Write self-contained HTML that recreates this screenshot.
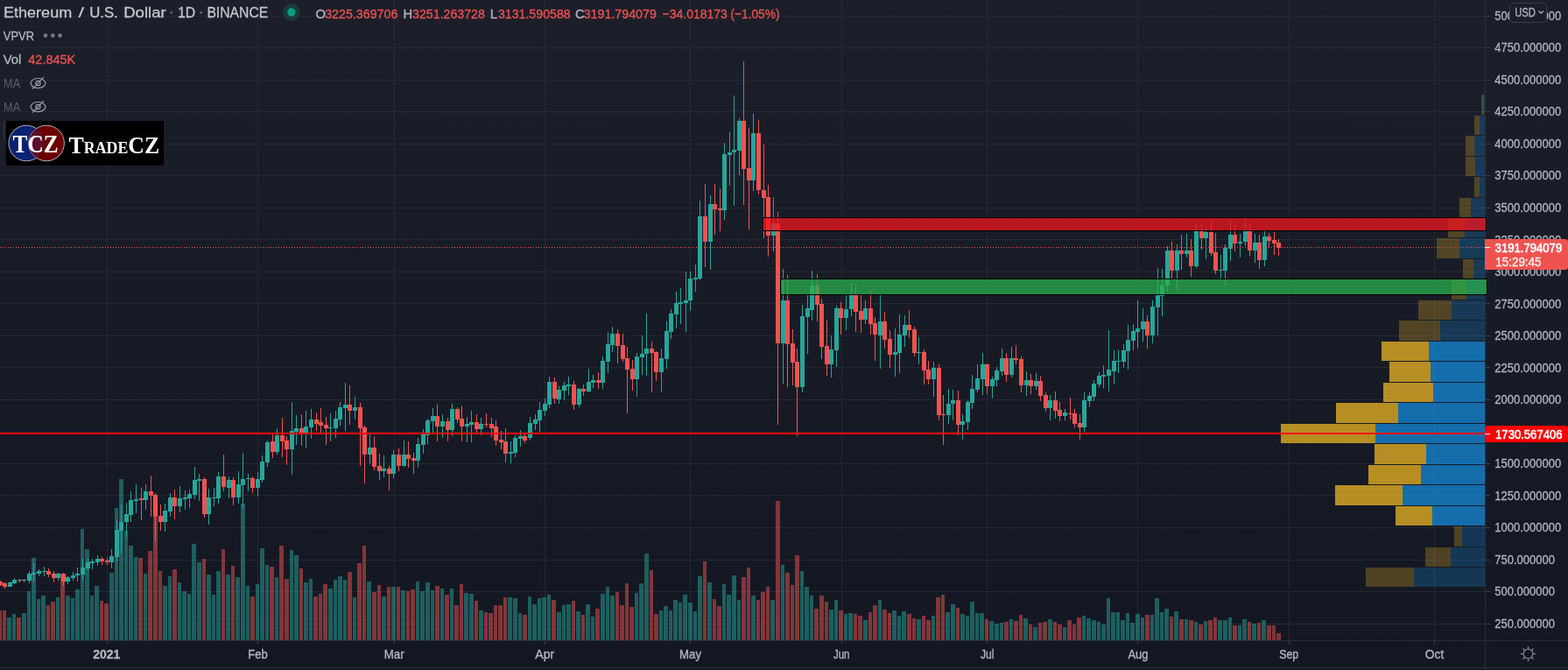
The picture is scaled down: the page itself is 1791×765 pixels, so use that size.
<!DOCTYPE html><html><head><meta charset="utf-8"><title>ETHUSD</title><style>html,body{margin:0;padding:0;background:#131722;}body{width:1791px;height:765px;overflow:hidden;position:relative;}svg{position:absolute;left:0;top:0;display:block;}svg{font-family:"Liberation Sans",Arial,sans-serif;}</style></head><body><svg width="1791" height="765" viewBox="0 0 1791 765"><defs><linearGradient id="bg" x1="0" y1="0" x2="0" y2="1"><stop offset="0" stop-color="#1c1f2a"/><stop offset="1" stop-color="#131722"/></linearGradient></defs><rect x="0" y="0" width="1791" height="765" fill="url(#bg)"/><g shape-rendering="crispEdges"><rect x="0" y="18" width="1696" height="1" fill="#262734"/><rect x="0" y="54" width="1696" height="1" fill="#262734"/><rect x="0" y="91" width="1696" height="1" fill="#262734"/><rect x="0" y="127" width="1696" height="1" fill="#262734"/><rect x="0" y="164" width="1696" height="1" fill="#262734"/><rect x="0" y="200" width="1696" height="1" fill="#262734"/><rect x="0" y="237" width="1696" height="1" fill="#262734"/><rect x="0" y="273" width="1696" height="1" fill="#262734"/><rect x="0" y="310" width="1696" height="1" fill="#262734"/><rect x="0" y="346" width="1696" height="1" fill="#262734"/><rect x="0" y="383" width="1696" height="1" fill="#262734"/><rect x="0" y="419" width="1696" height="1" fill="#262734"/><rect x="0" y="456" width="1696" height="1" fill="#262734"/><rect x="0" y="493" width="1696" height="1" fill="#262734"/><rect x="0" y="529" width="1696" height="1" fill="#262734"/><rect x="0" y="565" width="1696" height="1" fill="#262734"/><rect x="0" y="602" width="1696" height="1" fill="#262734"/><rect x="0" y="639" width="1696" height="1" fill="#262734"/><rect x="0" y="675" width="1696" height="1" fill="#262734"/><rect x="0" y="712" width="1696" height="1" fill="#262734"/><rect x="122" y="0" width="1" height="731" fill="#262734"/><rect x="294" y="0" width="1" height="731" fill="#262734"/><rect x="450" y="0" width="1" height="731" fill="#262734"/><rect x="622" y="0" width="1" height="731" fill="#262734"/><rect x="788" y="0" width="1" height="731" fill="#262734"/><rect x="961" y="0" width="1" height="731" fill="#262734"/><rect x="1127" y="0" width="1" height="731" fill="#262734"/><rect x="1299" y="0" width="1" height="731" fill="#262734"/><rect x="1472" y="0" width="1" height="731" fill="#262734"/><rect x="1638" y="0" width="1" height="731" fill="#262734"/></g><g shape-rendering="crispEdges"><rect x="0" y="697" width="2" height="34" fill="rgba(239,83,80,0.5)"/><rect x="3" y="697" width="4" height="34" fill="rgba(239,83,80,0.5)"/><rect x="8" y="705" width="5" height="26" fill="rgba(38,166,154,0.5)"/><rect x="14" y="701" width="4" height="30" fill="rgba(38,166,154,0.5)"/><rect x="19" y="705" width="5" height="26" fill="rgba(239,83,80,0.5)"/><rect x="25" y="700" width="5" height="31" fill="rgba(38,166,154,0.5)"/><rect x="31" y="675" width="4" height="56" fill="rgba(38,166,154,0.5)"/><rect x="36" y="637" width="5" height="94" fill="rgba(38,166,154,0.5)"/><rect x="42" y="684" width="4" height="47" fill="rgba(38,166,154,0.5)"/><rect x="47" y="680" width="5" height="51" fill="rgba(38,166,154,0.5)"/><rect x="53" y="691" width="4" height="40" fill="rgba(239,83,80,0.5)"/><rect x="58" y="687" width="5" height="44" fill="rgba(239,83,80,0.5)"/><rect x="64" y="682" width="4" height="49" fill="rgba(38,166,154,0.5)"/><rect x="69" y="655" width="5" height="76" fill="rgba(239,83,80,0.5)"/><rect x="75" y="680" width="5" height="51" fill="rgba(38,166,154,0.5)"/><rect x="81" y="683" width="4" height="48" fill="rgba(38,166,154,0.5)"/><rect x="86" y="673" width="5" height="58" fill="rgba(38,166,154,0.5)"/><rect x="92" y="604" width="4" height="127" fill="rgba(38,166,154,0.5)"/><rect x="97" y="627" width="5" height="104" fill="rgba(38,166,154,0.5)"/><rect x="103" y="680" width="4" height="51" fill="rgba(38,166,154,0.5)"/><rect x="108" y="669" width="5" height="62" fill="rgba(38,166,154,0.5)"/><rect x="114" y="686" width="4" height="45" fill="rgba(239,83,80,0.5)"/><rect x="119" y="689" width="5" height="42" fill="rgba(239,83,80,0.5)"/><rect x="125" y="654" width="5" height="77" fill="rgba(38,166,154,0.5)"/><rect x="131" y="580" width="4" height="151" fill="rgba(38,166,154,0.5)"/><rect x="136" y="547" width="5" height="184" fill="rgba(38,166,154,0.5)"/><rect x="142" y="606" width="4" height="125" fill="rgba(38,166,154,0.5)"/><rect x="147" y="623" width="5" height="108" fill="rgba(38,166,154,0.5)"/><rect x="153" y="636" width="4" height="95" fill="rgba(38,166,154,0.5)"/><rect x="158" y="637" width="5" height="94" fill="rgba(239,83,80,0.5)"/><rect x="164" y="655" width="4" height="76" fill="rgba(38,166,154,0.5)"/><rect x="169" y="629" width="5" height="102" fill="rgba(239,83,80,0.5)"/><rect x="175" y="590" width="5" height="141" fill="rgba(239,83,80,0.5)"/><rect x="181" y="652" width="4" height="79" fill="rgba(239,83,80,0.5)"/><rect x="186" y="669" width="5" height="62" fill="rgba(38,166,154,0.5)"/><rect x="192" y="658" width="4" height="73" fill="rgba(38,166,154,0.5)"/><rect x="197" y="650" width="5" height="81" fill="rgba(239,83,80,0.5)"/><rect x="203" y="665" width="4" height="66" fill="rgba(38,166,154,0.5)"/><rect x="208" y="675" width="5" height="56" fill="rgba(38,166,154,0.5)"/><rect x="214" y="678" width="4" height="53" fill="rgba(38,166,154,0.5)"/><rect x="219" y="621" width="5" height="110" fill="rgba(38,166,154,0.5)"/><rect x="225" y="642" width="5" height="89" fill="rgba(38,166,154,0.5)"/><rect x="231" y="638" width="4" height="93" fill="rgba(239,83,80,0.5)"/><rect x="236" y="656" width="5" height="75" fill="rgba(38,166,154,0.5)"/><rect x="242" y="679" width="4" height="52" fill="rgba(38,166,154,0.5)"/><rect x="247" y="652" width="5" height="79" fill="rgba(38,166,154,0.5)"/><rect x="253" y="627" width="4" height="104" fill="rgba(239,83,80,0.5)"/><rect x="258" y="656" width="5" height="75" fill="rgba(38,166,154,0.5)"/><rect x="264" y="646" width="4" height="85" fill="rgba(239,83,80,0.5)"/><rect x="269" y="659" width="5" height="72" fill="rgba(38,166,154,0.5)"/><rect x="275" y="575" width="5" height="156" fill="rgba(38,166,154,0.5)"/><rect x="281" y="669" width="4" height="62" fill="rgba(38,166,154,0.5)"/><rect x="286" y="681" width="5" height="50" fill="rgba(239,83,80,0.5)"/><rect x="292" y="667" width="4" height="64" fill="rgba(38,166,154,0.5)"/><rect x="297" y="626" width="5" height="105" fill="rgba(38,166,154,0.5)"/><rect x="303" y="645" width="4" height="86" fill="rgba(38,166,154,0.5)"/><rect x="308" y="647" width="5" height="84" fill="rgba(239,83,80,0.5)"/><rect x="314" y="659" width="4" height="72" fill="rgba(38,166,154,0.5)"/><rect x="319" y="623" width="5" height="108" fill="rgba(239,83,80,0.5)"/><rect x="325" y="661" width="5" height="70" fill="rgba(239,83,80,0.5)"/><rect x="331" y="628" width="4" height="103" fill="rgba(38,166,154,0.5)"/><rect x="336" y="634" width="5" height="97" fill="rgba(38,166,154,0.5)"/><rect x="342" y="649" width="4" height="82" fill="rgba(239,83,80,0.5)"/><rect x="347" y="665" width="5" height="66" fill="rgba(38,166,154,0.5)"/><rect x="353" y="661" width="4" height="70" fill="rgba(38,166,154,0.5)"/><rect x="358" y="681" width="5" height="50" fill="rgba(239,83,80,0.5)"/><rect x="364" y="678" width="4" height="53" fill="rgba(239,83,80,0.5)"/><rect x="369" y="667" width="5" height="64" fill="rgba(239,83,80,0.5)"/><rect x="375" y="672" width="5" height="59" fill="rgba(38,166,154,0.5)"/><rect x="381" y="662" width="4" height="69" fill="rgba(38,166,154,0.5)"/><rect x="386" y="658" width="5" height="73" fill="rgba(38,166,154,0.5)"/><rect x="392" y="662" width="4" height="69" fill="rgba(38,166,154,0.5)"/><rect x="397" y="653" width="5" height="78" fill="rgba(239,83,80,0.5)"/><rect x="403" y="682" width="4" height="49" fill="rgba(38,166,154,0.5)"/><rect x="408" y="643" width="5" height="88" fill="rgba(239,83,80,0.5)"/><rect x="414" y="623" width="4" height="108" fill="rgba(239,83,80,0.5)"/><rect x="419" y="664" width="5" height="67" fill="rgba(38,166,154,0.5)"/><rect x="425" y="676" width="5" height="55" fill="rgba(239,83,80,0.5)"/><rect x="431" y="668" width="4" height="63" fill="rgba(239,83,80,0.5)"/><rect x="436" y="681" width="5" height="50" fill="rgba(38,166,154,0.5)"/><rect x="442" y="670" width="4" height="61" fill="rgba(239,83,80,0.5)"/><rect x="447" y="670" width="5" height="61" fill="rgba(38,166,154,0.5)"/><rect x="453" y="670" width="4" height="61" fill="rgba(239,83,80,0.5)"/><rect x="458" y="674" width="5" height="57" fill="rgba(38,166,154,0.5)"/><rect x="464" y="675" width="4" height="56" fill="rgba(239,83,80,0.5)"/><rect x="469" y="673" width="5" height="58" fill="rgba(239,83,80,0.5)"/><rect x="475" y="664" width="4" height="67" fill="rgba(38,166,154,0.5)"/><rect x="480" y="675" width="5" height="56" fill="rgba(38,166,154,0.5)"/><rect x="486" y="665" width="5" height="66" fill="rgba(38,166,154,0.5)"/><rect x="492" y="674" width="4" height="57" fill="rgba(38,166,154,0.5)"/><rect x="497" y="669" width="5" height="62" fill="rgba(239,83,80,0.5)"/><rect x="503" y="672" width="4" height="59" fill="rgba(38,166,154,0.5)"/><rect x="508" y="679" width="5" height="52" fill="rgba(239,83,80,0.5)"/><rect x="514" y="672" width="4" height="59" fill="rgba(38,166,154,0.5)"/><rect x="519" y="691" width="5" height="40" fill="rgba(239,83,80,0.5)"/><rect x="525" y="667" width="4" height="64" fill="rgba(239,83,80,0.5)"/><rect x="530" y="677" width="5" height="54" fill="rgba(38,166,154,0.5)"/><rect x="536" y="678" width="5" height="53" fill="rgba(38,166,154,0.5)"/><rect x="542" y="686" width="4" height="45" fill="rgba(239,83,80,0.5)"/><rect x="547" y="697" width="5" height="34" fill="rgba(38,166,154,0.5)"/><rect x="553" y="699" width="4" height="32" fill="rgba(239,83,80,0.5)"/><rect x="558" y="700" width="5" height="31" fill="rgba(239,83,80,0.5)"/><rect x="564" y="691" width="4" height="40" fill="rgba(239,83,80,0.5)"/><rect x="569" y="691" width="5" height="40" fill="rgba(239,83,80,0.5)"/><rect x="575" y="682" width="4" height="49" fill="rgba(239,83,80,0.5)"/><rect x="580" y="682" width="5" height="49" fill="rgba(38,166,154,0.5)"/><rect x="586" y="683" width="5" height="48" fill="rgba(38,166,154,0.5)"/><rect x="592" y="700" width="4" height="31" fill="rgba(38,166,154,0.5)"/><rect x="597" y="702" width="5" height="29" fill="rgba(239,83,80,0.5)"/><rect x="603" y="681" width="4" height="50" fill="rgba(38,166,154,0.5)"/><rect x="608" y="690" width="5" height="41" fill="rgba(38,166,154,0.5)"/><rect x="614" y="683" width="4" height="48" fill="rgba(38,166,154,0.5)"/><rect x="619" y="682" width="5" height="49" fill="rgba(38,166,154,0.5)"/><rect x="625" y="679" width="4" height="52" fill="rgba(38,166,154,0.5)"/><rect x="630" y="685" width="5" height="46" fill="rgba(239,83,80,0.5)"/><rect x="636" y="699" width="5" height="32" fill="rgba(38,166,154,0.5)"/><rect x="642" y="691" width="4" height="40" fill="rgba(38,166,154,0.5)"/><rect x="647" y="690" width="5" height="41" fill="rgba(38,166,154,0.5)"/><rect x="653" y="686" width="4" height="45" fill="rgba(239,83,80,0.5)"/><rect x="658" y="698" width="5" height="33" fill="rgba(38,166,154,0.5)"/><rect x="664" y="702" width="4" height="29" fill="rgba(239,83,80,0.5)"/><rect x="669" y="690" width="5" height="41" fill="rgba(38,166,154,0.5)"/><rect x="675" y="704" width="4" height="27" fill="rgba(38,166,154,0.5)"/><rect x="680" y="695" width="5" height="36" fill="rgba(239,83,80,0.5)"/><rect x="686" y="678" width="5" height="53" fill="rgba(38,166,154,0.5)"/><rect x="692" y="670" width="4" height="61" fill="rgba(38,166,154,0.5)"/><rect x="697" y="680" width="5" height="51" fill="rgba(38,166,154,0.5)"/><rect x="703" y="676" width="4" height="55" fill="rgba(239,83,80,0.5)"/><rect x="708" y="691" width="5" height="40" fill="rgba(239,83,80,0.5)"/><rect x="714" y="666" width="4" height="65" fill="rgba(239,83,80,0.5)"/><rect x="719" y="693" width="5" height="38" fill="rgba(239,83,80,0.5)"/><rect x="725" y="677" width="4" height="54" fill="rgba(38,166,154,0.5)"/><rect x="730" y="666" width="5" height="65" fill="rgba(38,166,154,0.5)"/><rect x="736" y="632" width="5" height="99" fill="rgba(38,166,154,0.5)"/><rect x="742" y="651" width="4" height="80" fill="rgba(239,83,80,0.5)"/><rect x="747" y="701" width="5" height="30" fill="rgba(239,83,80,0.5)"/><rect x="753" y="697" width="4" height="34" fill="rgba(38,166,154,0.5)"/><rect x="758" y="692" width="5" height="39" fill="rgba(38,166,154,0.5)"/><rect x="764" y="697" width="4" height="34" fill="rgba(38,166,154,0.5)"/><rect x="769" y="685" width="5" height="46" fill="rgba(38,166,154,0.5)"/><rect x="775" y="688" width="4" height="43" fill="rgba(38,166,154,0.5)"/><rect x="780" y="679" width="5" height="52" fill="rgba(38,166,154,0.5)"/><rect x="786" y="688" width="5" height="43" fill="rgba(38,166,154,0.5)"/><rect x="792" y="698" width="4" height="33" fill="rgba(38,166,154,0.5)"/><rect x="797" y="658" width="5" height="73" fill="rgba(38,166,154,0.5)"/><rect x="803" y="641" width="4" height="90" fill="rgba(239,83,80,0.5)"/><rect x="808" y="665" width="5" height="66" fill="rgba(38,166,154,0.5)"/><rect x="814" y="684" width="4" height="47" fill="rgba(239,83,80,0.5)"/><rect x="819" y="692" width="5" height="39" fill="rgba(239,83,80,0.5)"/><rect x="825" y="667" width="4" height="64" fill="rgba(38,166,154,0.5)"/><rect x="830" y="679" width="5" height="52" fill="rgba(38,166,154,0.5)"/><rect x="836" y="657" width="5" height="74" fill="rgba(38,166,154,0.5)"/><rect x="842" y="685" width="4" height="46" fill="rgba(38,166,154,0.5)"/><rect x="847" y="659" width="5" height="72" fill="rgba(239,83,80,0.5)"/><rect x="853" y="648" width="4" height="83" fill="rgba(239,83,80,0.5)"/><rect x="858" y="680" width="5" height="51" fill="rgba(38,166,154,0.5)"/><rect x="864" y="685" width="4" height="46" fill="rgba(239,83,80,0.5)"/><rect x="869" y="676" width="5" height="55" fill="rgba(239,83,80,0.5)"/><rect x="875" y="670" width="4" height="61" fill="rgba(239,83,80,0.5)"/><rect x="880" y="685" width="5" height="46" fill="rgba(38,166,154,0.5)"/><rect x="886" y="572" width="5" height="159" fill="rgba(239,83,80,0.5)"/><rect x="892" y="645" width="4" height="86" fill="rgba(38,166,154,0.5)"/><rect x="897" y="654" width="5" height="77" fill="rgba(239,83,80,0.5)"/><rect x="903" y="668" width="4" height="63" fill="rgba(239,83,80,0.5)"/><rect x="908" y="634" width="5" height="97" fill="rgba(239,83,80,0.5)"/><rect x="914" y="652" width="4" height="79" fill="rgba(38,166,154,0.5)"/><rect x="919" y="670" width="5" height="61" fill="rgba(38,166,154,0.5)"/><rect x="925" y="680" width="4" height="51" fill="rgba(38,166,154,0.5)"/><rect x="930" y="695" width="5" height="36" fill="rgba(239,83,80,0.5)"/><rect x="936" y="680" width="5" height="51" fill="rgba(239,83,80,0.5)"/><rect x="942" y="687" width="4" height="44" fill="rgba(239,83,80,0.5)"/><rect x="947" y="696" width="5" height="35" fill="rgba(38,166,154,0.5)"/><rect x="953" y="685" width="4" height="46" fill="rgba(38,166,154,0.5)"/><rect x="958" y="697" width="5" height="34" fill="rgba(239,83,80,0.5)"/><rect x="964" y="701" width="4" height="30" fill="rgba(38,166,154,0.5)"/><rect x="969" y="700" width="5" height="31" fill="rgba(38,166,154,0.5)"/><rect x="975" y="701" width="4" height="30" fill="rgba(239,83,80,0.5)"/><rect x="980" y="703" width="5" height="28" fill="rgba(239,83,80,0.5)"/><rect x="986" y="708" width="5" height="23" fill="rgba(38,166,154,0.5)"/><rect x="992" y="699" width="4" height="32" fill="rgba(239,83,80,0.5)"/><rect x="997" y="691" width="5" height="40" fill="rgba(239,83,80,0.5)"/><rect x="1003" y="685" width="4" height="46" fill="rgba(38,166,154,0.5)"/><rect x="1008" y="696" width="5" height="35" fill="rgba(239,83,80,0.5)"/><rect x="1014" y="700" width="4" height="31" fill="rgba(239,83,80,0.5)"/><rect x="1019" y="697" width="5" height="34" fill="rgba(38,166,154,0.5)"/><rect x="1025" y="703" width="4" height="28" fill="rgba(38,166,154,0.5)"/><rect x="1030" y="698" width="5" height="33" fill="rgba(38,166,154,0.5)"/><rect x="1036" y="701" width="5" height="30" fill="rgba(239,83,80,0.5)"/><rect x="1042" y="706" width="4" height="25" fill="rgba(239,83,80,0.5)"/><rect x="1047" y="707" width="5" height="24" fill="rgba(38,166,154,0.5)"/><rect x="1053" y="703" width="4" height="28" fill="rgba(239,83,80,0.5)"/><rect x="1058" y="708" width="5" height="23" fill="rgba(239,83,80,0.5)"/><rect x="1064" y="703" width="4" height="28" fill="rgba(38,166,154,0.5)"/><rect x="1069" y="682" width="5" height="49" fill="rgba(239,83,80,0.5)"/><rect x="1075" y="679" width="4" height="52" fill="rgba(239,83,80,0.5)"/><rect x="1080" y="699" width="5" height="32" fill="rgba(38,166,154,0.5)"/><rect x="1086" y="690" width="5" height="41" fill="rgba(38,166,154,0.5)"/><rect x="1092" y="694" width="4" height="37" fill="rgba(239,83,80,0.5)"/><rect x="1097" y="701" width="5" height="30" fill="rgba(38,166,154,0.5)"/><rect x="1103" y="703" width="4" height="28" fill="rgba(38,166,154,0.5)"/><rect x="1108" y="687" width="5" height="44" fill="rgba(38,166,154,0.5)"/><rect x="1114" y="700" width="4" height="31" fill="rgba(38,166,154,0.5)"/><rect x="1119" y="700" width="5" height="31" fill="rgba(38,166,154,0.5)"/><rect x="1125" y="707" width="4" height="24" fill="rgba(239,83,80,0.5)"/><rect x="1130" y="709" width="5" height="22" fill="rgba(38,166,154,0.5)"/><rect x="1136" y="712" width="5" height="19" fill="rgba(38,166,154,0.5)"/><rect x="1142" y="711" width="4" height="20" fill="rgba(38,166,154,0.5)"/><rect x="1147" y="710" width="5" height="21" fill="rgba(239,83,80,0.5)"/><rect x="1153" y="707" width="4" height="24" fill="rgba(38,166,154,0.5)"/><rect x="1158" y="709" width="5" height="22" fill="rgba(239,83,80,0.5)"/><rect x="1164" y="702" width="4" height="29" fill="rgba(239,83,80,0.5)"/><rect x="1169" y="706" width="5" height="25" fill="rgba(38,166,154,0.5)"/><rect x="1175" y="713" width="4" height="18" fill="rgba(239,83,80,0.5)"/><rect x="1180" y="716" width="5" height="15" fill="rgba(38,166,154,0.5)"/><rect x="1186" y="711" width="4" height="20" fill="rgba(239,83,80,0.5)"/><rect x="1191" y="710" width="5" height="21" fill="rgba(239,83,80,0.5)"/><rect x="1197" y="707" width="5" height="24" fill="rgba(38,166,154,0.5)"/><rect x="1203" y="710" width="4" height="21" fill="rgba(239,83,80,0.5)"/><rect x="1208" y="713" width="5" height="18" fill="rgba(239,83,80,0.5)"/><rect x="1214" y="716" width="4" height="15" fill="rgba(38,166,154,0.5)"/><rect x="1219" y="708" width="5" height="23" fill="rgba(239,83,80,0.5)"/><rect x="1225" y="713" width="4" height="18" fill="rgba(239,83,80,0.5)"/><rect x="1230" y="705" width="5" height="26" fill="rgba(239,83,80,0.5)"/><rect x="1236" y="703" width="4" height="28" fill="rgba(38,166,154,0.5)"/><rect x="1241" y="706" width="5" height="25" fill="rgba(38,166,154,0.5)"/><rect x="1247" y="708" width="5" height="23" fill="rgba(38,166,154,0.5)"/><rect x="1253" y="710" width="4" height="21" fill="rgba(38,166,154,0.5)"/><rect x="1258" y="713" width="5" height="18" fill="rgba(38,166,154,0.5)"/><rect x="1264" y="683" width="4" height="48" fill="rgba(38,166,154,0.5)"/><rect x="1269" y="699" width="5" height="32" fill="rgba(38,166,154,0.5)"/><rect x="1275" y="699" width="4" height="32" fill="rgba(38,166,154,0.5)"/><rect x="1280" y="708" width="5" height="23" fill="rgba(38,166,154,0.5)"/><rect x="1286" y="700" width="4" height="31" fill="rgba(38,166,154,0.5)"/><rect x="1291" y="711" width="5" height="20" fill="rgba(38,166,154,0.5)"/><rect x="1297" y="701" width="5" height="30" fill="rgba(38,166,154,0.5)"/><rect x="1303" y="705" width="4" height="26" fill="rgba(38,166,154,0.5)"/><rect x="1308" y="702" width="5" height="29" fill="rgba(239,83,80,0.5)"/><rect x="1314" y="702" width="4" height="29" fill="rgba(38,166,154,0.5)"/><rect x="1319" y="683" width="5" height="48" fill="rgba(38,166,154,0.5)"/><rect x="1325" y="699" width="4" height="32" fill="rgba(38,166,154,0.5)"/><rect x="1330" y="695" width="5" height="36" fill="rgba(38,166,154,0.5)"/><rect x="1336" y="704" width="4" height="27" fill="rgba(239,83,80,0.5)"/><rect x="1341" y="698" width="5" height="33" fill="rgba(38,166,154,0.5)"/><rect x="1347" y="707" width="5" height="24" fill="rgba(239,83,80,0.5)"/><rect x="1353" y="707" width="4" height="24" fill="rgba(38,166,154,0.5)"/><rect x="1358" y="708" width="5" height="23" fill="rgba(239,83,80,0.5)"/><rect x="1364" y="710" width="4" height="21" fill="rgba(38,166,154,0.5)"/><rect x="1369" y="713" width="5" height="18" fill="rgba(239,83,80,0.5)"/><rect x="1375" y="709" width="4" height="22" fill="rgba(38,166,154,0.5)"/><rect x="1380" y="708" width="5" height="23" fill="rgba(239,83,80,0.5)"/><rect x="1386" y="705" width="4" height="26" fill="rgba(239,83,80,0.5)"/><rect x="1391" y="708" width="5" height="23" fill="rgba(38,166,154,0.5)"/><rect x="1397" y="708" width="5" height="23" fill="rgba(38,166,154,0.5)"/><rect x="1403" y="705" width="4" height="26" fill="rgba(38,166,154,0.5)"/><rect x="1408" y="714" width="5" height="17" fill="rgba(239,83,80,0.5)"/><rect x="1414" y="714" width="4" height="17" fill="rgba(38,166,154,0.5)"/><rect x="1419" y="707" width="5" height="24" fill="rgba(38,166,154,0.5)"/><rect x="1425" y="710" width="4" height="21" fill="rgba(239,83,80,0.5)"/><rect x="1430" y="712" width="5" height="19" fill="rgba(38,166,154,0.5)"/><rect x="1436" y="711" width="4" height="20" fill="rgba(239,83,80,0.5)"/><rect x="1441" y="708" width="5" height="23" fill="rgba(38,166,154,0.5)"/><rect x="1447" y="714" width="5" height="17" fill="rgba(239,83,80,0.5)"/><rect x="1453" y="714" width="4" height="17" fill="rgba(239,83,80,0.5)"/><rect x="1458" y="723" width="5" height="8" fill="rgba(239,83,80,0.5)"/></g><g shape-rendering="crispEdges"><rect x="0" y="663" width="1" height="6" fill="#ef5350"/><rect x="0" y="664" width="3" height="4" fill="#ef5350"/><rect x="5" y="665" width="1" height="7" fill="#ef5350"/><rect x="3" y="666" width="5" height="4" fill="#ef5350"/><rect x="11" y="664" width="1" height="6" fill="#26a69a"/><rect x="9" y="665" width="5" height="5" fill="#26a69a"/><rect x="16" y="660" width="1" height="7" fill="#26a69a"/><rect x="14" y="662" width="5" height="4" fill="#26a69a"/><rect x="22" y="661" width="1" height="4" fill="#ef5350"/><rect x="20" y="662" width="5" height="1" fill="#ef5350"/><rect x="27" y="661" width="1" height="4" fill="#26a69a"/><rect x="25" y="662" width="5" height="1" fill="#26a69a"/><rect x="33" y="652" width="1" height="14" fill="#26a69a"/><rect x="31" y="655" width="5" height="8" fill="#26a69a"/><rect x="38" y="643" width="1" height="21" fill="#26a69a"/><rect x="36" y="654" width="5" height="2" fill="#26a69a"/><rect x="44" y="650" width="1" height="8" fill="#26a69a"/><rect x="42" y="652" width="5" height="3" fill="#26a69a"/><rect x="50" y="647" width="1" height="11" fill="#26a69a"/><rect x="48" y="652" width="5" height="1" fill="#26a69a"/><rect x="55" y="649" width="1" height="10" fill="#ef5350"/><rect x="53" y="652" width="5" height="4" fill="#ef5350"/><rect x="61" y="652" width="1" height="13" fill="#ef5350"/><rect x="59" y="655" width="5" height="5" fill="#ef5350"/><rect x="66" y="654" width="1" height="9" fill="#26a69a"/><rect x="64" y="655" width="5" height="5" fill="#26a69a"/><rect x="72" y="654" width="1" height="15" fill="#ef5350"/><rect x="70" y="655" width="5" height="9" fill="#ef5350"/><rect x="77" y="658" width="1" height="9" fill="#26a69a"/><rect x="75" y="659" width="5" height="5" fill="#26a69a"/><rect x="83" y="653" width="1" height="10" fill="#26a69a"/><rect x="81" y="657" width="5" height="3" fill="#26a69a"/><rect x="88" y="648" width="1" height="16" fill="#26a69a"/><rect x="86" y="655" width="5" height="2" fill="#26a69a"/><rect x="94" y="638" width="1" height="25" fill="#26a69a"/><rect x="92" y="648" width="5" height="8" fill="#26a69a"/><rect x="100" y="638" width="1" height="13" fill="#26a69a"/><rect x="98" y="642" width="5" height="7" fill="#26a69a"/><rect x="105" y="638" width="1" height="12" fill="#26a69a"/><rect x="103" y="641" width="5" height="2" fill="#26a69a"/><rect x="111" y="634" width="1" height="12" fill="#26a69a"/><rect x="109" y="638" width="5" height="4" fill="#26a69a"/><rect x="116" y="636" width="1" height="9" fill="#ef5350"/><rect x="114" y="638" width="5" height="3" fill="#ef5350"/><rect x="122" y="637" width="1" height="8" fill="#ef5350"/><rect x="120" y="640" width="5" height="2" fill="#ef5350"/><rect x="127" y="627" width="1" height="22" fill="#26a69a"/><rect x="125" y="635" width="5" height="7" fill="#26a69a"/><rect x="133" y="593" width="1" height="48" fill="#26a69a"/><rect x="131" y="605" width="5" height="31" fill="#26a69a"/><rect x="138" y="576" width="1" height="56" fill="#26a69a"/><rect x="136" y="596" width="5" height="10" fill="#26a69a"/><rect x="144" y="574" width="1" height="39" fill="#26a69a"/><rect x="142" y="587" width="5" height="9" fill="#26a69a"/><rect x="149" y="561" width="1" height="35" fill="#26a69a"/><rect x="147" y="571" width="5" height="17" fill="#26a69a"/><rect x="155" y="553" width="1" height="33" fill="#26a69a"/><rect x="153" y="570" width="5" height="2" fill="#26a69a"/><rect x="161" y="557" width="1" height="37" fill="#ef5350"/><rect x="159" y="569" width="5" height="2" fill="#ef5350"/><rect x="166" y="553" width="1" height="29" fill="#26a69a"/><rect x="164" y="561" width="5" height="10" fill="#26a69a"/><rect x="172" y="543" width="1" height="47" fill="#ef5350"/><rect x="170" y="561" width="5" height="5" fill="#ef5350"/><rect x="177" y="563" width="1" height="55" fill="#ef5350"/><rect x="175" y="565" width="5" height="25" fill="#ef5350"/><rect x="183" y="576" width="1" height="30" fill="#ef5350"/><rect x="181" y="589" width="5" height="7" fill="#ef5350"/><rect x="188" y="575" width="1" height="32" fill="#26a69a"/><rect x="186" y="583" width="5" height="13" fill="#26a69a"/><rect x="194" y="563" width="1" height="27" fill="#26a69a"/><rect x="192" y="568" width="5" height="16" fill="#26a69a"/><rect x="199" y="559" width="1" height="34" fill="#ef5350"/><rect x="197" y="568" width="5" height="10" fill="#ef5350"/><rect x="205" y="555" width="1" height="30" fill="#26a69a"/><rect x="203" y="569" width="5" height="9" fill="#26a69a"/><rect x="211" y="560" width="1" height="22" fill="#26a69a"/><rect x="209" y="568" width="5" height="2" fill="#26a69a"/><rect x="216" y="559" width="1" height="21" fill="#26a69a"/><rect x="214" y="564" width="5" height="5" fill="#26a69a"/><rect x="222" y="533" width="1" height="37" fill="#26a69a"/><rect x="220" y="548" width="5" height="17" fill="#26a69a"/><rect x="227" y="541" width="1" height="31" fill="#26a69a"/><rect x="225" y="547" width="5" height="2" fill="#26a69a"/><rect x="233" y="545" width="1" height="46" fill="#ef5350"/><rect x="231" y="547" width="5" height="40" fill="#ef5350"/><rect x="238" y="558" width="1" height="41" fill="#26a69a"/><rect x="236" y="568" width="5" height="19" fill="#26a69a"/><rect x="244" y="557" width="1" height="21" fill="#26a69a"/><rect x="242" y="568" width="5" height="1" fill="#26a69a"/><rect x="249" y="539" width="1" height="36" fill="#26a69a"/><rect x="247" y="544" width="5" height="25" fill="#26a69a"/><rect x="255" y="519" width="1" height="42" fill="#ef5350"/><rect x="253" y="544" width="5" height="12" fill="#ef5350"/><rect x="261" y="544" width="1" height="25" fill="#26a69a"/><rect x="259" y="548" width="5" height="9" fill="#26a69a"/><rect x="266" y="545" width="1" height="32" fill="#ef5350"/><rect x="264" y="548" width="5" height="20" fill="#ef5350"/><rect x="272" y="538" width="1" height="37" fill="#26a69a"/><rect x="270" y="553" width="5" height="15" fill="#26a69a"/><rect x="277" y="517" width="1" height="63" fill="#26a69a"/><rect x="275" y="547" width="5" height="7" fill="#26a69a"/><rect x="283" y="541" width="1" height="20" fill="#26a69a"/><rect x="281" y="546" width="5" height="1" fill="#26a69a"/><rect x="288" y="544" width="1" height="19" fill="#ef5350"/><rect x="286" y="546" width="5" height="11" fill="#ef5350"/><rect x="294" y="539" width="1" height="28" fill="#26a69a"/><rect x="292" y="547" width="5" height="10" fill="#26a69a"/><rect x="299" y="520" width="1" height="31" fill="#26a69a"/><rect x="297" y="527" width="5" height="21" fill="#26a69a"/><rect x="305" y="503" width="1" height="30" fill="#26a69a"/><rect x="303" y="505" width="5" height="23" fill="#26a69a"/><rect x="311" y="496" width="1" height="27" fill="#ef5350"/><rect x="309" y="504" width="5" height="12" fill="#ef5350"/><rect x="316" y="489" width="1" height="30" fill="#26a69a"/><rect x="314" y="497" width="5" height="19" fill="#26a69a"/><rect x="322" y="477" width="1" height="45" fill="#ef5350"/><rect x="320" y="497" width="5" height="7" fill="#ef5350"/><rect x="327" y="498" width="1" height="33" fill="#ef5350"/><rect x="325" y="503" width="5" height="10" fill="#ef5350"/><rect x="333" y="459" width="1" height="83" fill="#26a69a"/><rect x="331" y="492" width="5" height="21" fill="#26a69a"/><rect x="338" y="474" width="1" height="34" fill="#26a69a"/><rect x="336" y="489" width="5" height="4" fill="#26a69a"/><rect x="344" y="473" width="1" height="36" fill="#ef5350"/><rect x="342" y="489" width="5" height="6" fill="#ef5350"/><rect x="349" y="469" width="1" height="43" fill="#26a69a"/><rect x="347" y="487" width="5" height="8" fill="#26a69a"/><rect x="355" y="467" width="1" height="34" fill="#26a69a"/><rect x="353" y="479" width="5" height="9" fill="#26a69a"/><rect x="361" y="471" width="1" height="21" fill="#ef5350"/><rect x="359" y="479" width="5" height="5" fill="#ef5350"/><rect x="366" y="466" width="1" height="30" fill="#ef5350"/><rect x="364" y="482" width="5" height="4" fill="#ef5350"/><rect x="372" y="476" width="1" height="32" fill="#ef5350"/><rect x="370" y="485" width="5" height="4" fill="#ef5350"/><rect x="377" y="472" width="1" height="32" fill="#26a69a"/><rect x="375" y="488" width="5" height="1" fill="#26a69a"/><rect x="383" y="469" width="1" height="31" fill="#26a69a"/><rect x="381" y="478" width="5" height="11" fill="#26a69a"/><rect x="388" y="459" width="1" height="27" fill="#26a69a"/><rect x="386" y="465" width="5" height="14" fill="#26a69a"/><rect x="394" y="437" width="1" height="55" fill="#26a69a"/><rect x="392" y="462" width="5" height="4" fill="#26a69a"/><rect x="399" y="440" width="1" height="45" fill="#ef5350"/><rect x="397" y="462" width="5" height="7" fill="#ef5350"/><rect x="405" y="453" width="1" height="26" fill="#26a69a"/><rect x="403" y="465" width="5" height="4" fill="#26a69a"/><rect x="411" y="460" width="1" height="72" fill="#ef5350"/><rect x="409" y="465" width="5" height="24" fill="#ef5350"/><rect x="416" y="486" width="1" height="66" fill="#ef5350"/><rect x="414" y="488" width="5" height="31" fill="#ef5350"/><rect x="422" y="496" width="1" height="34" fill="#26a69a"/><rect x="420" y="511" width="5" height="8" fill="#26a69a"/><rect x="427" y="498" width="1" height="39" fill="#ef5350"/><rect x="425" y="511" width="5" height="22" fill="#ef5350"/><rect x="433" y="518" width="1" height="30" fill="#ef5350"/><rect x="431" y="532" width="5" height="6" fill="#ef5350"/><rect x="438" y="520" width="1" height="25" fill="#26a69a"/><rect x="436" y="535" width="5" height="3" fill="#26a69a"/><rect x="444" y="532" width="1" height="28" fill="#ef5350"/><rect x="442" y="535" width="5" height="6" fill="#ef5350"/><rect x="449" y="514" width="1" height="32" fill="#26a69a"/><rect x="447" y="519" width="5" height="22" fill="#26a69a"/><rect x="455" y="512" width="1" height="26" fill="#ef5350"/><rect x="453" y="519" width="5" height="13" fill="#ef5350"/><rect x="461" y="503" width="1" height="30" fill="#26a69a"/><rect x="459" y="519" width="5" height="13" fill="#26a69a"/><rect x="466" y="504" width="1" height="30" fill="#ef5350"/><rect x="464" y="519" width="5" height="5" fill="#ef5350"/><rect x="472" y="517" width="1" height="24" fill="#ef5350"/><rect x="470" y="523" width="5" height="3" fill="#ef5350"/><rect x="477" y="500" width="1" height="34" fill="#26a69a"/><rect x="475" y="507" width="5" height="19" fill="#26a69a"/><rect x="483" y="490" width="1" height="28" fill="#26a69a"/><rect x="481" y="496" width="5" height="12" fill="#26a69a"/><rect x="488" y="478" width="1" height="29" fill="#26a69a"/><rect x="486" y="480" width="5" height="17" fill="#26a69a"/><rect x="494" y="466" width="1" height="30" fill="#26a69a"/><rect x="492" y="475" width="5" height="6" fill="#26a69a"/><rect x="499" y="462" width="1" height="42" fill="#ef5350"/><rect x="497" y="475" width="5" height="12" fill="#ef5350"/><rect x="505" y="473" width="1" height="27" fill="#26a69a"/><rect x="503" y="481" width="5" height="6" fill="#26a69a"/><rect x="511" y="477" width="1" height="27" fill="#ef5350"/><rect x="509" y="481" width="5" height="10" fill="#ef5350"/><rect x="516" y="461" width="1" height="37" fill="#26a69a"/><rect x="514" y="467" width="5" height="24" fill="#26a69a"/><rect x="522" y="465" width="1" height="18" fill="#ef5350"/><rect x="520" y="467" width="5" height="12" fill="#ef5350"/><rect x="527" y="463" width="1" height="41" fill="#ef5350"/><rect x="525" y="478" width="5" height="9" fill="#ef5350"/><rect x="533" y="476" width="1" height="29" fill="#26a69a"/><rect x="531" y="484" width="5" height="3" fill="#26a69a"/><rect x="538" y="469" width="1" height="36" fill="#26a69a"/><rect x="536" y="482" width="5" height="3" fill="#26a69a"/><rect x="544" y="473" width="1" height="23" fill="#ef5350"/><rect x="542" y="482" width="5" height="8" fill="#ef5350"/><rect x="549" y="477" width="1" height="20" fill="#26a69a"/><rect x="547" y="484" width="5" height="6" fill="#26a69a"/><rect x="555" y="472" width="1" height="16" fill="#ef5350"/><rect x="553" y="484" width="5" height="1" fill="#ef5350"/><rect x="561" y="477" width="1" height="22" fill="#ef5350"/><rect x="559" y="484" width="5" height="5" fill="#ef5350"/><rect x="566" y="480" width="1" height="29" fill="#ef5350"/><rect x="564" y="487" width="5" height="16" fill="#ef5350"/><rect x="572" y="492" width="1" height="21" fill="#ef5350"/><rect x="570" y="502" width="5" height="3" fill="#ef5350"/><rect x="577" y="489" width="1" height="39" fill="#ef5350"/><rect x="575" y="504" width="5" height="14" fill="#ef5350"/><rect x="583" y="504" width="1" height="25" fill="#26a69a"/><rect x="581" y="516" width="5" height="2" fill="#26a69a"/><rect x="588" y="497" width="1" height="25" fill="#26a69a"/><rect x="586" y="500" width="5" height="17" fill="#26a69a"/><rect x="594" y="491" width="1" height="19" fill="#26a69a"/><rect x="592" y="498" width="5" height="3" fill="#26a69a"/><rect x="599" y="495" width="1" height="11" fill="#ef5350"/><rect x="597" y="498" width="5" height="5" fill="#ef5350"/><rect x="605" y="476" width="1" height="27" fill="#26a69a"/><rect x="603" y="483" width="5" height="17" fill="#26a69a"/><rect x="611" y="473" width="1" height="18" fill="#26a69a"/><rect x="609" y="479" width="5" height="5" fill="#26a69a"/><rect x="616" y="459" width="1" height="34" fill="#26a69a"/><rect x="614" y="468" width="5" height="12" fill="#26a69a"/><rect x="622" y="455" width="1" height="20" fill="#26a69a"/><rect x="620" y="461" width="5" height="8" fill="#26a69a"/><rect x="627" y="430" width="1" height="36" fill="#26a69a"/><rect x="625" y="436" width="5" height="26" fill="#26a69a"/><rect x="633" y="431" width="1" height="30" fill="#ef5350"/><rect x="631" y="436" width="5" height="19" fill="#ef5350"/><rect x="638" y="441" width="1" height="20" fill="#26a69a"/><rect x="636" y="445" width="5" height="11" fill="#26a69a"/><rect x="644" y="436" width="1" height="21" fill="#26a69a"/><rect x="642" y="440" width="5" height="6" fill="#26a69a"/><rect x="649" y="430" width="1" height="21" fill="#26a69a"/><rect x="647" y="439" width="5" height="2" fill="#26a69a"/><rect x="655" y="435" width="1" height="33" fill="#ef5350"/><rect x="653" y="439" width="5" height="23" fill="#ef5350"/><rect x="661" y="443" width="1" height="22" fill="#26a69a"/><rect x="659" y="444" width="5" height="18" fill="#26a69a"/><rect x="666" y="439" width="1" height="13" fill="#ef5350"/><rect x="664" y="444" width="5" height="3" fill="#ef5350"/><rect x="672" y="421" width="1" height="27" fill="#26a69a"/><rect x="670" y="436" width="5" height="11" fill="#26a69a"/><rect x="677" y="428" width="1" height="15" fill="#26a69a"/><rect x="675" y="434" width="5" height="3" fill="#26a69a"/><rect x="683" y="425" width="1" height="19" fill="#ef5350"/><rect x="681" y="434" width="5" height="3" fill="#ef5350"/><rect x="688" y="407" width="1" height="37" fill="#26a69a"/><rect x="686" y="412" width="5" height="25" fill="#26a69a"/><rect x="694" y="379" width="1" height="47" fill="#26a69a"/><rect x="692" y="393" width="5" height="20" fill="#26a69a"/><rect x="699" y="373" width="1" height="29" fill="#26a69a"/><rect x="697" y="381" width="5" height="13" fill="#26a69a"/><rect x="705" y="376" width="1" height="39" fill="#ef5350"/><rect x="703" y="381" width="5" height="14" fill="#ef5350"/><rect x="711" y="381" width="1" height="32" fill="#ef5350"/><rect x="709" y="394" width="5" height="16" fill="#ef5350"/><rect x="716" y="396" width="1" height="76" fill="#ef5350"/><rect x="714" y="409" width="5" height="13" fill="#ef5350"/><rect x="722" y="411" width="1" height="35" fill="#ef5350"/><rect x="720" y="421" width="5" height="12" fill="#ef5350"/><rect x="727" y="403" width="1" height="50" fill="#26a69a"/><rect x="725" y="407" width="5" height="26" fill="#26a69a"/><rect x="733" y="383" width="1" height="45" fill="#26a69a"/><rect x="731" y="404" width="5" height="4" fill="#26a69a"/><rect x="738" y="358" width="1" height="71" fill="#26a69a"/><rect x="736" y="398" width="5" height="6" fill="#26a69a"/><rect x="744" y="390" width="1" height="58" fill="#ef5350"/><rect x="742" y="398" width="5" height="5" fill="#ef5350"/><rect x="749" y="401" width="1" height="34" fill="#ef5350"/><rect x="747" y="402" width="5" height="23" fill="#ef5350"/><rect x="755" y="398" width="1" height="50" fill="#26a69a"/><rect x="753" y="409" width="5" height="16" fill="#26a69a"/><rect x="761" y="367" width="1" height="54" fill="#26a69a"/><rect x="759" y="378" width="5" height="32" fill="#26a69a"/><rect x="766" y="353" width="1" height="34" fill="#26a69a"/><rect x="764" y="358" width="5" height="21" fill="#26a69a"/><rect x="772" y="333" width="1" height="42" fill="#26a69a"/><rect x="770" y="346" width="5" height="13" fill="#26a69a"/><rect x="777" y="329" width="1" height="41" fill="#26a69a"/><rect x="775" y="345" width="5" height="2" fill="#26a69a"/><rect x="783" y="310" width="1" height="69" fill="#26a69a"/><rect x="781" y="343" width="5" height="3" fill="#26a69a"/><rect x="788" y="310" width="1" height="45" fill="#26a69a"/><rect x="786" y="318" width="5" height="25" fill="#26a69a"/><rect x="794" y="302" width="1" height="31" fill="#26a69a"/><rect x="792" y="317" width="5" height="2" fill="#26a69a"/><rect x="799" y="229" width="1" height="91" fill="#26a69a"/><rect x="797" y="247" width="5" height="71" fill="#26a69a"/><rect x="805" y="210" width="1" height="95" fill="#ef5350"/><rect x="803" y="247" width="5" height="29" fill="#ef5350"/><rect x="811" y="223" width="1" height="85" fill="#26a69a"/><rect x="809" y="233" width="5" height="43" fill="#26a69a"/><rect x="816" y="210" width="1" height="58" fill="#ef5350"/><rect x="814" y="233" width="5" height="6" fill="#ef5350"/><rect x="822" y="215" width="1" height="49" fill="#ef5350"/><rect x="820" y="238" width="5" height="2" fill="#ef5350"/><rect x="827" y="163" width="1" height="88" fill="#26a69a"/><rect x="825" y="176" width="5" height="64" fill="#26a69a"/><rect x="833" y="151" width="1" height="61" fill="#26a69a"/><rect x="831" y="174" width="5" height="3" fill="#26a69a"/><rect x="838" y="109" width="1" height="126" fill="#26a69a"/><rect x="836" y="171" width="5" height="3" fill="#26a69a"/><rect x="844" y="135" width="1" height="65" fill="#26a69a"/><rect x="842" y="138" width="5" height="34" fill="#26a69a"/><rect x="849" y="70" width="1" height="164" fill="#ef5350"/><rect x="847" y="138" width="5" height="55" fill="#ef5350"/><rect x="855" y="146" width="1" height="116" fill="#ef5350"/><rect x="853" y="192" width="5" height="14" fill="#ef5350"/><rect x="860" y="130" width="1" height="88" fill="#26a69a"/><rect x="858" y="152" width="5" height="54" fill="#26a69a"/><rect x="866" y="137" width="1" height="85" fill="#ef5350"/><rect x="864" y="152" width="5" height="65" fill="#ef5350"/><rect x="872" y="165" width="1" height="107" fill="#ef5350"/><rect x="870" y="217" width="5" height="9" fill="#ef5350"/><rect x="877" y="211" width="1" height="82" fill="#ef5350"/><rect x="875" y="225" width="5" height="44" fill="#ef5350"/><rect x="883" y="225" width="1" height="62" fill="#26a69a"/><rect x="881" y="255" width="5" height="14" fill="#26a69a"/><rect x="888" y="242" width="1" height="243" fill="#ef5350"/><rect x="886" y="255" width="5" height="137" fill="#ef5350"/><rect x="894" y="307" width="1" height="131" fill="#26a69a"/><rect x="892" y="343" width="5" height="49" fill="#26a69a"/><rect x="899" y="314" width="1" height="128" fill="#ef5350"/><rect x="897" y="343" width="5" height="50" fill="#ef5350"/><rect x="905" y="376" width="1" height="64" fill="#ef5350"/><rect x="903" y="392" width="5" height="22" fill="#ef5350"/><rect x="910" y="398" width="1" height="100" fill="#ef5350"/><rect x="908" y="413" width="5" height="29" fill="#ef5350"/><rect x="916" y="348" width="1" height="100" fill="#26a69a"/><rect x="914" y="361" width="5" height="81" fill="#26a69a"/><rect x="922" y="337" width="1" height="67" fill="#26a69a"/><rect x="920" y="352" width="5" height="10" fill="#26a69a"/><rect x="927" y="309" width="1" height="57" fill="#26a69a"/><rect x="925" y="326" width="5" height="28" fill="#26a69a"/><rect x="933" y="313" width="1" height="54" fill="#ef5350"/><rect x="931" y="326" width="5" height="22" fill="#ef5350"/><rect x="938" y="341" width="1" height="69" fill="#ef5350"/><rect x="936" y="347" width="5" height="49" fill="#ef5350"/><rect x="944" y="366" width="1" height="63" fill="#ef5350"/><rect x="942" y="395" width="5" height="21" fill="#ef5350"/><rect x="949" y="383" width="1" height="48" fill="#26a69a"/><rect x="947" y="399" width="5" height="17" fill="#26a69a"/><rect x="955" y="349" width="1" height="70" fill="#26a69a"/><rect x="953" y="352" width="5" height="48" fill="#26a69a"/><rect x="960" y="345" width="1" height="37" fill="#ef5350"/><rect x="958" y="352" width="5" height="11" fill="#ef5350"/><rect x="966" y="337" width="1" height="40" fill="#26a69a"/><rect x="964" y="353" width="5" height="10" fill="#26a69a"/><rect x="972" y="323" width="1" height="38" fill="#26a69a"/><rect x="970" y="337" width="5" height="16" fill="#26a69a"/><rect x="977" y="325" width="1" height="54" fill="#ef5350"/><rect x="975" y="337" width="5" height="19" fill="#ef5350"/><rect x="983" y="337" width="1" height="43" fill="#ef5350"/><rect x="981" y="355" width="5" height="10" fill="#ef5350"/><rect x="988" y="343" width="1" height="27" fill="#26a69a"/><rect x="986" y="352" width="5" height="13" fill="#26a69a"/><rect x="994" y="331" width="1" height="51" fill="#ef5350"/><rect x="992" y="352" width="5" height="18" fill="#ef5350"/><rect x="999" y="362" width="1" height="50" fill="#ef5350"/><rect x="997" y="369" width="5" height="13" fill="#ef5350"/><rect x="1005" y="337" width="1" height="84" fill="#26a69a"/><rect x="1003" y="367" width="5" height="16" fill="#26a69a"/><rect x="1010" y="356" width="1" height="42" fill="#ef5350"/><rect x="1008" y="367" width="5" height="21" fill="#ef5350"/><rect x="1016" y="377" width="1" height="43" fill="#ef5350"/><rect x="1014" y="387" width="5" height="18" fill="#ef5350"/><rect x="1022" y="375" width="1" height="55" fill="#26a69a"/><rect x="1020" y="402" width="5" height="3" fill="#26a69a"/><rect x="1027" y="359" width="1" height="67" fill="#26a69a"/><rect x="1025" y="382" width="5" height="21" fill="#26a69a"/><rect x="1033" y="360" width="1" height="36" fill="#26a69a"/><rect x="1031" y="371" width="5" height="12" fill="#26a69a"/><rect x="1038" y="354" width="1" height="32" fill="#ef5350"/><rect x="1036" y="371" width="5" height="6" fill="#ef5350"/><rect x="1044" y="373" width="1" height="34" fill="#ef5350"/><rect x="1042" y="376" width="5" height="27" fill="#ef5350"/><rect x="1049" y="385" width="1" height="31" fill="#26a69a"/><rect x="1047" y="402" width="5" height="1" fill="#26a69a"/><rect x="1055" y="399" width="1" height="40" fill="#ef5350"/><rect x="1053" y="402" width="5" height="21" fill="#ef5350"/><rect x="1060" y="412" width="1" height="27" fill="#ef5350"/><rect x="1058" y="422" width="5" height="11" fill="#ef5350"/><rect x="1066" y="413" width="1" height="40" fill="#26a69a"/><rect x="1064" y="420" width="5" height="13" fill="#26a69a"/><rect x="1072" y="416" width="1" height="64" fill="#ef5350"/><rect x="1070" y="420" width="5" height="54" fill="#ef5350"/><rect x="1077" y="451" width="1" height="57" fill="#ef5350"/><rect x="1075" y="473" width="5" height="1" fill="#ef5350"/><rect x="1083" y="444" width="1" height="40" fill="#26a69a"/><rect x="1081" y="461" width="5" height="13" fill="#26a69a"/><rect x="1088" y="445" width="1" height="35" fill="#26a69a"/><rect x="1086" y="457" width="5" height="4" fill="#26a69a"/><rect x="1094" y="446" width="1" height="51" fill="#ef5350"/><rect x="1092" y="457" width="5" height="28" fill="#ef5350"/><rect x="1099" y="473" width="1" height="29" fill="#26a69a"/><rect x="1097" y="481" width="5" height="4" fill="#26a69a"/><rect x="1105" y="457" width="1" height="34" fill="#26a69a"/><rect x="1103" y="459" width="5" height="23" fill="#26a69a"/><rect x="1110" y="428" width="1" height="39" fill="#26a69a"/><rect x="1108" y="444" width="5" height="16" fill="#26a69a"/><rect x="1116" y="416" width="1" height="32" fill="#26a69a"/><rect x="1114" y="432" width="5" height="13" fill="#26a69a"/><rect x="1122" y="403" width="1" height="48" fill="#26a69a"/><rect x="1120" y="416" width="5" height="17" fill="#26a69a"/><rect x="1127" y="415" width="1" height="35" fill="#ef5350"/><rect x="1125" y="416" width="5" height="25" fill="#ef5350"/><rect x="1133" y="430" width="1" height="25" fill="#26a69a"/><rect x="1131" y="433" width="5" height="8" fill="#26a69a"/><rect x="1138" y="419" width="1" height="22" fill="#26a69a"/><rect x="1136" y="423" width="5" height="11" fill="#26a69a"/><rect x="1144" y="398" width="1" height="31" fill="#26a69a"/><rect x="1142" y="409" width="5" height="15" fill="#26a69a"/><rect x="1149" y="403" width="1" height="33" fill="#ef5350"/><rect x="1147" y="409" width="5" height="19" fill="#ef5350"/><rect x="1155" y="396" width="1" height="35" fill="#26a69a"/><rect x="1153" y="409" width="5" height="19" fill="#26a69a"/><rect x="1160" y="394" width="1" height="22" fill="#ef5350"/><rect x="1158" y="409" width="5" height="2" fill="#ef5350"/><rect x="1166" y="407" width="1" height="41" fill="#ef5350"/><rect x="1164" y="410" width="5" height="30" fill="#ef5350"/><rect x="1172" y="424" width="1" height="28" fill="#26a69a"/><rect x="1170" y="434" width="5" height="6" fill="#26a69a"/><rect x="1177" y="427" width="1" height="23" fill="#ef5350"/><rect x="1175" y="434" width="5" height="7" fill="#ef5350"/><rect x="1183" y="426" width="1" height="19" fill="#26a69a"/><rect x="1181" y="435" width="5" height="6" fill="#26a69a"/><rect x="1188" y="429" width="1" height="29" fill="#ef5350"/><rect x="1186" y="435" width="5" height="17" fill="#ef5350"/><rect x="1194" y="448" width="1" height="22" fill="#ef5350"/><rect x="1192" y="451" width="5" height="15" fill="#ef5350"/><rect x="1199" y="451" width="1" height="29" fill="#26a69a"/><rect x="1197" y="457" width="5" height="9" fill="#26a69a"/><rect x="1205" y="447" width="1" height="31" fill="#ef5350"/><rect x="1203" y="457" width="5" height="12" fill="#ef5350"/><rect x="1210" y="459" width="1" height="22" fill="#ef5350"/><rect x="1208" y="468" width="5" height="7" fill="#ef5350"/><rect x="1216" y="467" width="1" height="13" fill="#26a69a"/><rect x="1214" y="471" width="5" height="4" fill="#26a69a"/><rect x="1222" y="454" width="1" height="25" fill="#ef5350"/><rect x="1220" y="472" width="5" height="1" fill="#ef5350"/><rect x="1227" y="467" width="1" height="21" fill="#ef5350"/><rect x="1225" y="472" width="5" height="12" fill="#ef5350"/><rect x="1233" y="473" width="1" height="29" fill="#ef5350"/><rect x="1231" y="483" width="5" height="5" fill="#ef5350"/><rect x="1238" y="448" width="1" height="45" fill="#26a69a"/><rect x="1236" y="457" width="5" height="31" fill="#26a69a"/><rect x="1244" y="448" width="1" height="17" fill="#26a69a"/><rect x="1242" y="452" width="5" height="6" fill="#26a69a"/><rect x="1249" y="434" width="1" height="24" fill="#26a69a"/><rect x="1247" y="438" width="5" height="15" fill="#26a69a"/><rect x="1255" y="425" width="1" height="17" fill="#26a69a"/><rect x="1253" y="429" width="5" height="10" fill="#26a69a"/><rect x="1260" y="417" width="1" height="26" fill="#26a69a"/><rect x="1258" y="428" width="5" height="2" fill="#26a69a"/><rect x="1266" y="377" width="1" height="70" fill="#26a69a"/><rect x="1264" y="422" width="5" height="7" fill="#26a69a"/><rect x="1272" y="400" width="1" height="39" fill="#26a69a"/><rect x="1270" y="412" width="5" height="12" fill="#26a69a"/><rect x="1277" y="399" width="1" height="27" fill="#26a69a"/><rect x="1275" y="412" width="5" height="1" fill="#26a69a"/><rect x="1283" y="393" width="1" height="27" fill="#26a69a"/><rect x="1281" y="400" width="5" height="13" fill="#26a69a"/><rect x="1288" y="371" width="1" height="51" fill="#26a69a"/><rect x="1286" y="388" width="5" height="13" fill="#26a69a"/><rect x="1294" y="370" width="1" height="30" fill="#26a69a"/><rect x="1292" y="378" width="5" height="11" fill="#26a69a"/><rect x="1299" y="343" width="1" height="55" fill="#26a69a"/><rect x="1297" y="375" width="5" height="4" fill="#26a69a"/><rect x="1305" y="352" width="1" height="38" fill="#26a69a"/><rect x="1303" y="367" width="5" height="9" fill="#26a69a"/><rect x="1310" y="360" width="1" height="38" fill="#ef5350"/><rect x="1308" y="367" width="5" height="16" fill="#ef5350"/><rect x="1316" y="343" width="1" height="49" fill="#26a69a"/><rect x="1314" y="350" width="5" height="33" fill="#26a69a"/><rect x="1322" y="306" width="1" height="77" fill="#26a69a"/><rect x="1320" y="337" width="5" height="14" fill="#26a69a"/><rect x="1327" y="307" width="1" height="54" fill="#26a69a"/><rect x="1325" y="326" width="5" height="12" fill="#26a69a"/><rect x="1333" y="281" width="1" height="52" fill="#26a69a"/><rect x="1331" y="286" width="5" height="40" fill="#26a69a"/><rect x="1338" y="276" width="1" height="42" fill="#ef5350"/><rect x="1336" y="286" width="5" height="23" fill="#ef5350"/><rect x="1344" y="279" width="1" height="52" fill="#26a69a"/><rect x="1342" y="286" width="5" height="23" fill="#26a69a"/><rect x="1349" y="268" width="1" height="40" fill="#ef5350"/><rect x="1347" y="286" width="5" height="4" fill="#ef5350"/><rect x="1355" y="267" width="1" height="27" fill="#26a69a"/><rect x="1353" y="286" width="5" height="4" fill="#26a69a"/><rect x="1360" y="273" width="1" height="43" fill="#ef5350"/><rect x="1358" y="286" width="5" height="18" fill="#ef5350"/><rect x="1366" y="256" width="1" height="50" fill="#26a69a"/><rect x="1364" y="264" width="5" height="40" fill="#26a69a"/><rect x="1372" y="256" width="1" height="29" fill="#ef5350"/><rect x="1370" y="264" width="5" height="8" fill="#ef5350"/><rect x="1377" y="260" width="1" height="36" fill="#26a69a"/><rect x="1375" y="265" width="5" height="7" fill="#26a69a"/><rect x="1383" y="253" width="1" height="39" fill="#ef5350"/><rect x="1381" y="265" width="5" height="24" fill="#ef5350"/><rect x="1388" y="266" width="1" height="47" fill="#ef5350"/><rect x="1386" y="288" width="5" height="21" fill="#ef5350"/><rect x="1394" y="291" width="1" height="27" fill="#26a69a"/><rect x="1392" y="308" width="5" height="1" fill="#26a69a"/><rect x="1399" y="279" width="1" height="47" fill="#26a69a"/><rect x="1397" y="283" width="5" height="26" fill="#26a69a"/><rect x="1405" y="252" width="1" height="46" fill="#26a69a"/><rect x="1403" y="268" width="5" height="16" fill="#26a69a"/><rect x="1410" y="257" width="1" height="30" fill="#ef5350"/><rect x="1408" y="268" width="5" height="10" fill="#ef5350"/><rect x="1416" y="267" width="1" height="27" fill="#26a69a"/><rect x="1414" y="276" width="5" height="2" fill="#26a69a"/><rect x="1422" y="249" width="1" height="32" fill="#26a69a"/><rect x="1420" y="264" width="5" height="12" fill="#26a69a"/><rect x="1427" y="255" width="1" height="37" fill="#ef5350"/><rect x="1425" y="264" width="5" height="22" fill="#ef5350"/><rect x="1433" y="267" width="1" height="33" fill="#26a69a"/><rect x="1431" y="277" width="5" height="9" fill="#26a69a"/><rect x="1438" y="268" width="1" height="39" fill="#ef5350"/><rect x="1436" y="277" width="5" height="20" fill="#ef5350"/><rect x="1444" y="264" width="1" height="40" fill="#26a69a"/><rect x="1442" y="270" width="5" height="27" fill="#26a69a"/><rect x="1449" y="266" width="1" height="17" fill="#ef5350"/><rect x="1447" y="270" width="5" height="5" fill="#ef5350"/><rect x="1455" y="265" width="1" height="26" fill="#ef5350"/><rect x="1453" y="274" width="5" height="4" fill="#ef5350"/><rect x="1460" y="273" width="1" height="19" fill="#ef5350"/><rect x="1458" y="277" width="5" height="6" fill="#ef5350"/></g><g shape-rendering="crispEdges"><rect x="1692" y="108" width="3" height="23" fill="rgba(251,193,35,0.25)"/><rect x="1695" y="108" width="1" height="23" fill="rgba(21,146,230,0.25)"/><rect x="1684" y="132" width="6" height="22" fill="rgba(251,193,35,0.25)"/><rect x="1690" y="132" width="6" height="22" fill="rgba(21,146,230,0.25)"/><rect x="1674" y="155" width="10" height="23" fill="rgba(251,193,35,0.25)"/><rect x="1684" y="155" width="12" height="23" fill="rgba(21,146,230,0.25)"/><rect x="1674" y="179" width="11" height="22" fill="rgba(251,193,35,0.25)"/><rect x="1685" y="179" width="11" height="22" fill="rgba(21,146,230,0.25)"/><rect x="1684" y="202" width="6" height="23" fill="rgba(251,193,35,0.25)"/><rect x="1690" y="202" width="6" height="23" fill="rgba(21,146,230,0.25)"/><rect x="1667" y="226" width="13" height="22" fill="rgba(251,193,35,0.25)"/><rect x="1680" y="226" width="16" height="22" fill="rgba(21,146,230,0.25)"/><rect x="1654" y="249" width="19" height="22" fill="rgba(251,193,35,0.25)"/><rect x="1673" y="249" width="23" height="22" fill="rgba(21,146,230,0.25)"/><rect x="1641" y="272" width="26" height="23" fill="rgba(251,193,35,0.25)"/><rect x="1667" y="272" width="29" height="23" fill="rgba(21,146,230,0.25)"/><rect x="1671" y="296" width="12" height="22" fill="rgba(251,193,35,0.25)"/><rect x="1683" y="296" width="13" height="22" fill="rgba(21,146,230,0.25)"/><rect x="1658" y="319" width="17" height="23" fill="rgba(251,193,35,0.25)"/><rect x="1675" y="319" width="21" height="23" fill="rgba(21,146,230,0.25)"/><rect x="1620" y="343" width="38" height="22" fill="rgba(251,193,35,0.25)"/><rect x="1658" y="343" width="38" height="22" fill="rgba(21,146,230,0.25)"/><rect x="1598" y="366" width="47" height="23" fill="rgba(251,193,35,0.25)"/><rect x="1645" y="366" width="51" height="23" fill="rgba(21,146,230,0.25)"/><rect x="1578" y="390" width="54" height="22" fill="rgba(251,193,35,0.7)"/><rect x="1632" y="390" width="64" height="22" fill="rgba(21,146,230,0.7)"/><rect x="1587" y="413" width="47" height="23" fill="rgba(251,193,35,0.7)"/><rect x="1634" y="413" width="62" height="23" fill="rgba(21,146,230,0.7)"/><rect x="1580" y="437" width="57" height="22" fill="rgba(251,193,35,0.7)"/><rect x="1637" y="437" width="59" height="22" fill="rgba(21,146,230,0.7)"/><rect x="1526" y="460" width="71" height="23" fill="rgba(251,193,35,0.7)"/><rect x="1597" y="460" width="99" height="23" fill="rgba(21,146,230,0.7)"/><rect x="1463" y="484" width="108" height="22" fill="rgba(251,193,35,0.7)"/><rect x="1571" y="484" width="125" height="22" fill="rgba(21,146,230,0.7)"/><rect x="1570" y="507" width="59" height="23" fill="rgba(251,193,35,0.7)"/><rect x="1629" y="507" width="67" height="23" fill="rgba(21,146,230,0.7)"/><rect x="1563" y="531" width="60" height="22" fill="rgba(251,193,35,0.7)"/><rect x="1623" y="531" width="73" height="22" fill="rgba(21,146,230,0.7)"/><rect x="1525" y="554" width="77" height="23" fill="rgba(251,193,35,0.7)"/><rect x="1602" y="554" width="94" height="23" fill="rgba(21,146,230,0.7)"/><rect x="1594" y="578" width="42" height="22" fill="rgba(251,193,35,0.7)"/><rect x="1636" y="578" width="60" height="22" fill="rgba(21,146,230,0.7)"/><rect x="1661" y="601" width="9" height="23" fill="rgba(251,193,35,0.25)"/><rect x="1670" y="601" width="26" height="23" fill="rgba(21,146,230,0.25)"/><rect x="1628" y="625" width="29" height="22" fill="rgba(251,193,35,0.25)"/><rect x="1657" y="625" width="39" height="22" fill="rgba(21,146,230,0.25)"/><rect x="1560" y="648" width="55" height="22" fill="rgba(251,193,35,0.25)"/><rect x="1615" y="648" width="81" height="22" fill="rgba(21,146,230,0.25)"/></g><g shape-rendering="crispEdges"><rect x="1696" y="0" width="1" height="763" fill="#2a2e39"/><rect x="0" y="731" width="1791" height="1" fill="#2a2e39"/><rect x="0" y="762" width="1791" height="1" fill="#2a2e39"/><rect x="1697" y="18" width="5" height="1" fill="#3a3e4a"/><rect x="1697" y="54" width="5" height="1" fill="#3a3e4a"/><rect x="1697" y="91" width="5" height="1" fill="#3a3e4a"/><rect x="1697" y="127" width="5" height="1" fill="#3a3e4a"/><rect x="1697" y="164" width="5" height="1" fill="#3a3e4a"/><rect x="1697" y="200" width="5" height="1" fill="#3a3e4a"/><rect x="1697" y="237" width="5" height="1" fill="#3a3e4a"/><rect x="1697" y="273" width="5" height="1" fill="#3a3e4a"/><rect x="1697" y="310" width="5" height="1" fill="#3a3e4a"/><rect x="1697" y="346" width="5" height="1" fill="#3a3e4a"/><rect x="1697" y="383" width="5" height="1" fill="#3a3e4a"/><rect x="1697" y="419" width="5" height="1" fill="#3a3e4a"/><rect x="1697" y="456" width="5" height="1" fill="#3a3e4a"/><rect x="1697" y="493" width="5" height="1" fill="#3a3e4a"/><rect x="1697" y="529" width="5" height="1" fill="#3a3e4a"/><rect x="1697" y="565" width="5" height="1" fill="#3a3e4a"/><rect x="1697" y="602" width="5" height="1" fill="#3a3e4a"/><rect x="1697" y="639" width="5" height="1" fill="#3a3e4a"/><rect x="1697" y="675" width="5" height="1" fill="#3a3e4a"/><rect x="1697" y="712" width="5" height="1" fill="#3a3e4a"/><rect x="122" y="732" width="1" height="4" fill="#3a3e4a"/><rect x="294" y="732" width="1" height="4" fill="#3a3e4a"/><rect x="450" y="732" width="1" height="4" fill="#3a3e4a"/><rect x="622" y="732" width="1" height="4" fill="#3a3e4a"/><rect x="788" y="732" width="1" height="4" fill="#3a3e4a"/><rect x="961" y="732" width="1" height="4" fill="#3a3e4a"/><rect x="1127" y="732" width="1" height="4" fill="#3a3e4a"/><rect x="1299" y="732" width="1" height="4" fill="#3a3e4a"/><rect x="1472" y="732" width="1" height="4" fill="#3a3e4a"/><rect x="1638" y="732" width="1" height="4" fill="#3a3e4a"/></g><g shape-rendering="crispEdges"><rect x="871" y="248" width="827" height="16" fill="rgba(240,20,30,0.75)"/><rect x="871.5" y="248.5" width="826" height="15" fill="none" stroke="#000" stroke-width="1"/><rect x="891" y="318" width="808" height="19" fill="rgba(40,175,78,0.75)"/><rect x="891.5" y="318.5" width="807" height="18" fill="none" stroke="#000" stroke-width="1"/><rect x="0" y="494" width="1696" height="2" fill="#ff0000"/><line x1="0" y1="282.5" x2="1696" y2="282.5" stroke="#ef5350" stroke-width="1" stroke-dasharray="1 2"/></g><text x="1707.3" y="22.7" font-size="14.5" fill="#b2b5be" stroke="#b2b5be" stroke-width="0.3" textLength="75.8" lengthAdjust="spacingAndGlyphs">5000.000000</text><text x="1707.3" y="59.2" font-size="14.5" fill="#b2b5be" stroke="#b2b5be" stroke-width="0.3" textLength="75.8" lengthAdjust="spacingAndGlyphs">4750.000000</text><text x="1707.3" y="95.8" font-size="14.5" fill="#b2b5be" stroke="#b2b5be" stroke-width="0.3" textLength="75.8" lengthAdjust="spacingAndGlyphs">4500.000000</text><text x="1707.3" y="132.3" font-size="14.5" fill="#b2b5be" stroke="#b2b5be" stroke-width="0.3" textLength="75.8" lengthAdjust="spacingAndGlyphs">4250.000000</text><text x="1707.3" y="168.8" font-size="14.5" fill="#b2b5be" stroke="#b2b5be" stroke-width="0.3" textLength="75.8" lengthAdjust="spacingAndGlyphs">4000.000000</text><text x="1707.3" y="205.4" font-size="14.5" fill="#b2b5be" stroke="#b2b5be" stroke-width="0.3" textLength="75.8" lengthAdjust="spacingAndGlyphs">3750.000000</text><text x="1707.3" y="241.9" font-size="14.5" fill="#b2b5be" stroke="#b2b5be" stroke-width="0.3" textLength="75.8" lengthAdjust="spacingAndGlyphs">3500.000000</text><text x="1707.3" y="278.5" font-size="14.5" fill="#b2b5be" stroke="#b2b5be" stroke-width="0.3" textLength="75.8" lengthAdjust="spacingAndGlyphs">3250.000000</text><text x="1707.3" y="315.0" font-size="14.5" fill="#b2b5be" stroke="#b2b5be" stroke-width="0.3" textLength="75.8" lengthAdjust="spacingAndGlyphs">3000.000000</text><text x="1707.3" y="351.5" font-size="14.5" fill="#b2b5be" stroke="#b2b5be" stroke-width="0.3" textLength="75.8" lengthAdjust="spacingAndGlyphs">2750.000000</text><text x="1707.3" y="388.1" font-size="14.5" fill="#b2b5be" stroke="#b2b5be" stroke-width="0.3" textLength="75.8" lengthAdjust="spacingAndGlyphs">2500.000000</text><text x="1707.3" y="424.6" font-size="14.5" fill="#b2b5be" stroke="#b2b5be" stroke-width="0.3" textLength="75.8" lengthAdjust="spacingAndGlyphs">2250.000000</text><text x="1707.3" y="461.1" font-size="14.5" fill="#b2b5be" stroke="#b2b5be" stroke-width="0.3" textLength="75.8" lengthAdjust="spacingAndGlyphs">2000.000000</text><text x="1707.3" y="497.7" font-size="14.5" fill="#b2b5be" stroke="#b2b5be" stroke-width="0.3" textLength="75.8" lengthAdjust="spacingAndGlyphs">1750.000000</text><text x="1707.3" y="534.2" font-size="14.5" fill="#b2b5be" stroke="#b2b5be" stroke-width="0.3" textLength="75.8" lengthAdjust="spacingAndGlyphs">1500.000000</text><text x="1707.3" y="570.8" font-size="14.5" fill="#b2b5be" stroke="#b2b5be" stroke-width="0.3" textLength="75.8" lengthAdjust="spacingAndGlyphs">1250.000000</text><text x="1707.3" y="607.3" font-size="14.5" fill="#b2b5be" stroke="#b2b5be" stroke-width="0.3" textLength="75.8" lengthAdjust="spacingAndGlyphs">1000.000000</text><text x="1707.3" y="643.8" font-size="14.5" fill="#b2b5be" stroke="#b2b5be" stroke-width="0.3" textLength="68.6" lengthAdjust="spacingAndGlyphs">750.000000</text><text x="1707.3" y="680.4" font-size="14.5" fill="#b2b5be" stroke="#b2b5be" stroke-width="0.3" textLength="68.6" lengthAdjust="spacingAndGlyphs">500.000000</text><text x="1707.3" y="716.9" font-size="14.5" fill="#b2b5be" stroke="#b2b5be" stroke-width="0.3" textLength="68.6" lengthAdjust="spacingAndGlyphs">250.000000</text><text x="106.2" y="751.7" font-size="14.5" fill="#b2b5be" stroke="#b2b5be" stroke-width="0.35" textLength="31" lengthAdjust="spacingAndGlyphs" font-weight="bold">2021</text><text x="283.2" y="751.7" font-size="14.5" fill="#b2b5be" stroke="#b2b5be" stroke-width="0.35" textLength="22.5" lengthAdjust="spacingAndGlyphs">Feb</text><text x="438.7" y="751.7" font-size="14.5" fill="#b2b5be" stroke="#b2b5be" stroke-width="0.35" textLength="23" lengthAdjust="spacingAndGlyphs">Mar</text><text x="611.3" y="751.7" font-size="14.5" fill="#b2b5be" stroke="#b2b5be" stroke-width="0.35" textLength="22" lengthAdjust="spacingAndGlyphs">Apr</text><text x="776.1" y="751.7" font-size="14.5" fill="#b2b5be" stroke="#b2b5be" stroke-width="0.35" textLength="25" lengthAdjust="spacingAndGlyphs">May</text><text x="951.9" y="751.7" font-size="14.5" fill="#b2b5be" stroke="#b2b5be" stroke-width="0.35" textLength="18.5" lengthAdjust="spacingAndGlyphs">Jun</text><text x="1120.0" y="751.7" font-size="14.5" fill="#b2b5be" stroke="#b2b5be" stroke-width="0.35" textLength="15.5" lengthAdjust="spacingAndGlyphs">Jul</text><text x="1288.5" y="751.7" font-size="14.5" fill="#b2b5be" stroke="#b2b5be" stroke-width="0.35" textLength="23" lengthAdjust="spacingAndGlyphs">Aug</text><text x="1461.2" y="751.7" font-size="14.5" fill="#b2b5be" stroke="#b2b5be" stroke-width="0.35" textLength="22" lengthAdjust="spacingAndGlyphs">Sep</text><text x="1627.8" y="751.7" font-size="14.5" fill="#b2b5be" stroke="#b2b5be" stroke-width="0.35" textLength="21.5" lengthAdjust="spacingAndGlyphs">Oct</text><path d="M1696,273 H1788 Q1791,273 1791,276 V305 Q1791,308 1788,308 H1696 Z" fill="#ef5350"/><rect x="1696" y="282" width="6" height="1" fill="#fff" shape-rendering="crispEdges"/><text x="1707.6" y="288.2" font-size="14.5" fill="#fff" stroke="#fff" stroke-width="0.6" textLength="76.6" lengthAdjust="spacingAndGlyphs">3191.794079</text><text x="1708.2" y="304.2" font-size="14.5" fill="#fff" fill-opacity="0.85" stroke="#fff" stroke-opacity="0.85" stroke-width="0.4" textLength="52.4" lengthAdjust="spacingAndGlyphs">15:29:45</text><path d="M1696,486 H1788 Q1791,486 1791,489 V502 Q1791,505 1788,505 H1696 Z" fill="#ff0000"/><rect x="1696" y="495" width="6" height="1" fill="#fff" shape-rendering="crispEdges"/><text x="1708.1" y="501" font-size="14.5" fill="#fff" stroke="#fff" stroke-width="0.6" textLength="76.4" lengthAdjust="spacingAndGlyphs">1730.567406</text><rect x="1724.5" y="3.5" width="42" height="22" rx="4" fill="#1b1e29" stroke="#3a3e4a" stroke-width="1"/><text x="1730.2" y="19.1" font-size="14.5" fill="#b2b5be" stroke="#b2b5be" stroke-width="0.3" textLength="23.8" lengthAdjust="spacingAndGlyphs">USD</text><polyline points="1757.5,12.5 1760.2,15.2 1762.9,12.5" fill="none" stroke="#b2b5be" stroke-width="1.3"/><g stroke="#8a8d96" stroke-width="1.2" fill="none"><circle cx="1745.5" cy="746.6" r="5.4"/><line x1="1751.40" y1="746.60" x2="1754.10" y2="746.60"/><line x1="1749.67" y1="750.77" x2="1751.58" y2="752.68"/><line x1="1745.50" y1="752.50" x2="1745.50" y2="755.20"/><line x1="1741.33" y1="750.77" x2="1739.42" y2="752.68"/><line x1="1739.60" y1="746.60" x2="1736.90" y2="746.60"/><line x1="1741.33" y1="742.43" x2="1739.42" y2="740.52"/><line x1="1745.50" y1="740.70" x2="1745.50" y2="738.00"/><line x1="1749.67" y1="742.43" x2="1751.58" y2="740.52"/></g><text x="4.0" y="19.9" font-size="16.6" fill="#c3c6ce" stroke="#c3c6ce" stroke-width="0.3" textLength="78.2" lengthAdjust="spacingAndGlyphs">Ethereum</text><text x="89.4" y="19.9" font-size="16.6" fill="#c3c6ce" stroke="#c3c6ce" stroke-width="0.2" textLength="6.6" lengthAdjust="spacingAndGlyphs">/</text><text x="102.2" y="19.9" font-size="16.6" fill="#c3c6ce" stroke="#c3c6ce" stroke-width="0.3" textLength="32.6" lengthAdjust="spacingAndGlyphs">U.S.</text><text x="141.2" y="19.9" font-size="16.6" fill="#c3c6ce" stroke="#c3c6ce" stroke-width="0.3" textLength="48.6" lengthAdjust="spacingAndGlyphs">Dollar</text><circle cx="195.7" cy="14.4" r="1.3" fill="#6a6d78"/><text x="203.0" y="19.9" font-size="16.6" fill="#c3c6ce" stroke="#c3c6ce" stroke-width="0.3" textLength="20.2" lengthAdjust="spacingAndGlyphs">1D</text><circle cx="229.7" cy="14.4" r="1.3" fill="#6a6d78"/><text x="236.4" y="19.9" font-size="16.6" fill="#c3c6ce" stroke="#c3c6ce" stroke-width="0.3" textLength="69.8" lengthAdjust="spacingAndGlyphs">BINANCE</text><circle cx="332.9" cy="13.9" r="9.8" fill="rgba(8,153,129,0.22)"/><circle cx="332.9" cy="13.9" r="4.6" fill="#0a9b82"/><text x="360.4" y="20.9" font-size="15.2" fill="#b2b5be" stroke="#b2b5be" stroke-width="0.3" textLength="11.6" lengthAdjust="spacingAndGlyphs">O</text><text x="371.2" y="20.9" font-size="15.2" fill="#ef5350" stroke="#ef5350" stroke-width="0.3" textLength="83.2" lengthAdjust="spacingAndGlyphs">3225.369706</text><text x="460.6" y="20.9" font-size="15.2" fill="#b2b5be" stroke="#b2b5be" stroke-width="0.3" textLength="10.6" lengthAdjust="spacingAndGlyphs">H</text><text x="471.1" y="20.9" font-size="15.2" fill="#ef5350" stroke="#ef5350" stroke-width="0.3" textLength="82.8" lengthAdjust="spacingAndGlyphs">3251.263728</text><text x="559.8" y="20.9" font-size="15.2" fill="#b2b5be" stroke="#b2b5be" stroke-width="0.3" textLength="8.6" lengthAdjust="spacingAndGlyphs">L</text><text x="568.9" y="20.9" font-size="15.2" fill="#ef5350" stroke="#ef5350" stroke-width="0.3" textLength="82.8" lengthAdjust="spacingAndGlyphs">3131.590588</text><text x="657.0" y="20.9" font-size="15.2" fill="#b2b5be" stroke="#b2b5be" stroke-width="0.3" textLength="10.6" lengthAdjust="spacingAndGlyphs">C</text><text x="666.7" y="20.9" font-size="15.2" fill="#ef5350" stroke="#ef5350" stroke-width="0.3" textLength="83.2" lengthAdjust="spacingAndGlyphs">3191.794079</text><text x="756.5" y="20.9" font-size="15.2" fill="#ef5350" stroke="#ef5350" stroke-width="0.3" textLength="74.4" lengthAdjust="spacingAndGlyphs">−34.018173</text><text x="834.5" y="20.9" font-size="15.2" fill="#ef5350" stroke="#ef5350" stroke-width="0.3" textLength="56.0" lengthAdjust="spacingAndGlyphs">(−1.05%)</text><text x="3.8" y="46" font-size="15.2" fill="#b2b5be" stroke="#b2b5be" stroke-width="0.3" textLength="35.2" lengthAdjust="spacingAndGlyphs">VPVR</text><circle cx="52.0" cy="40.6" r="2.3" fill="#787b86"/><circle cx="60.3" cy="40.6" r="2.3" fill="#787b86"/><circle cx="68.6" cy="40.6" r="2.3" fill="#787b86"/><text x="3.8" y="72.7" font-size="15.2" fill="#b2b5be" stroke="#b2b5be" stroke-width="0.3" textLength="20.6" lengthAdjust="spacingAndGlyphs">Vol</text><text x="32.3" y="72.7" font-size="15.2" fill="#ef5350" stroke="#ef5350" stroke-width="0.3" textLength="54.0" lengthAdjust="spacingAndGlyphs">42.845K</text><text x="4.1" y="100" font-size="15.2" fill="#5d606b" textLength="19.2" lengthAdjust="spacingAndGlyphs">MA</text><g fill="none" stroke="#9a9da6" stroke-width="1.15"><path d="M34.9,95 C37.2,87.6 49.8,87.6 52.1,95 C49.8,102.4 37.2,102.4 34.9,95 Z"/><circle cx="43.5" cy="95" r="2.6"/><line x1="37.2" y1="101.7" x2="50.0" y2="88.1"/></g><text x="4.1" y="127" font-size="15.2" fill="#5d606b" textLength="19.2" lengthAdjust="spacingAndGlyphs">MA</text><g fill="none" stroke="#9a9da6" stroke-width="1.15"><path d="M34.9,122 C37.2,114.6 49.8,114.6 52.1,122 C49.8,129.4 37.2,129.4 34.9,122 Z"/><circle cx="43.5" cy="122" r="2.6"/><line x1="37.2" y1="128.7" x2="50.0" y2="115.1"/></g><rect x="4.5" y="138.5" width="22" height="22.5" rx="3" fill="none" stroke="#363a45" stroke-width="1"/><rect x="7" y="138" width="180" height="51" fill="#000"/><circle cx="30.2" cy="163.5" r="20.3" fill="#0b2272" stroke="#d8d8d8" stroke-width="0.8"/><circle cx="53.1" cy="163.5" r="20.3" fill="#6a0000" stroke="#d8d8d8" stroke-width="0.8"/><clipPath id="cl"><circle cx="30.2" cy="163.5" r="20.3"/></clipPath><circle cx="53.1" cy="163.5" r="20.3" fill="#5c0f2a" clip-path="url(#cl)"/><text x="14.6" y="174.2" font-size="28.5" fill="#fff" style="font-family:&quot;Liberation Serif&quot;,serif;font-weight:bold" textLength="52" lengthAdjust="spacingAndGlyphs">TCZ</text><text x="78.6" y="175.2" fill="#fff" style="font-family:&quot;Liberation Serif&quot;,serif;font-weight:bold" textLength="103.6" lengthAdjust="spacingAndGlyphs"><tspan font-size="27.5">T</tspan><tspan font-size="19">RADE</tspan><tspan font-size="27.5">CZ</tspan></text></svg></body></html>
